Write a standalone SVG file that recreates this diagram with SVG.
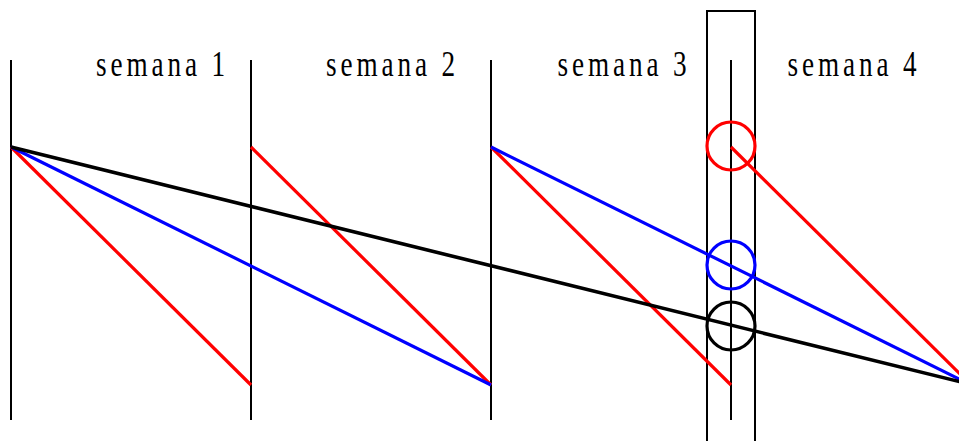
<svg xmlns="http://www.w3.org/2000/svg" width="959" height="441" viewBox="0 0 959 441">
<style>
.lbl{font-family:'Liberation Serif','Times New Roman',serif;font-size:32px;fill:#000}
.v{stroke:#000;stroke-width:2;fill:none}
.r{stroke:#ff0000;stroke-width:3.2;fill:none}
.b{stroke:#0000ff;stroke-width:3.2;fill:none}
.k{stroke:#000;stroke-width:3.6;fill:none}
</style>
<rect width="959" height="441" fill="#fff"/>
<g id="axes">
<line class="v" x1="11" y1="60" x2="11" y2="420"/>
<line class="v" x1="251" y1="60" x2="251" y2="420"/>
<line class="v" x1="491" y1="60" x2="491" y2="420"/>
<line class="v" x1="731" y1="60" x2="731" y2="420"/>
<rect id="highlight" class="v" x="707" y="11" width="48" height="440"/>
</g>
<g id="labels">
<text class="lbl" transform="translate(96,76) scale(0.85,1.15)" textLength="152" lengthAdjust="spacing">semana 1</text>
<text class="lbl" transform="translate(326,76) scale(0.85,1.15)" textLength="152" lengthAdjust="spacing">semana 2</text>
<text class="lbl" transform="translate(557.5,76) scale(0.85,1.15)" textLength="152" lengthAdjust="spacing">semana 3</text>
<text class="lbl" transform="translate(787.5,76) scale(0.85,1.15)" textLength="152" lengthAdjust="spacing">semana 4</text>
</g>
<g id="connectors">
<line class="r" x1="11" y1="147" x2="251" y2="385"/>
<line class="r" x1="251" y1="147" x2="491" y2="385"/>
<line class="r" x1="491" y1="147" x2="731" y2="385"/>
<line class="r" x1="731" y1="147" x2="961" y2="375"/>
<line class="b" x1="11" y1="147" x2="491" y2="385"/>
<line class="b" x1="491" y1="147" x2="961" y2="380"/>
<line class="k" x1="11" y1="147" x2="961" y2="382"/>
</g>
<g id="circles">
<circle id="c-red" class="r" cx="731" cy="146" r="24"/>
<circle id="c-blue" class="b" cx="731" cy="265" r="24"/>
<circle id="c-black" cx="731" cy="326" r="24" fill="none" stroke="#000" stroke-width="3.2"/>
</g>
</svg>
